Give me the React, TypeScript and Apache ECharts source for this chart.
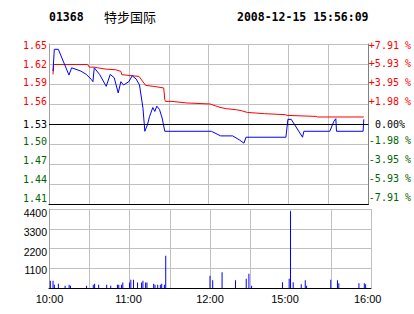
import React, { useEffect, useRef } from 'react';
import * as echarts from 'echarts';

// ---------- data ----------
const STOCK_CODE = '01368';
const STOCK_NAME = '特步国际';
const TIMESTAMP = '2008-12-15 15:56:09';
const PREV_CLOSE = 1.53;
const PRICE_MIN = 1.409;
const PRICE_MAX = 1.651;
const PRICE_STEP = 0.03025;
const PRICE_TICK_LABELS = ['1.41', '1.44', '1.47', '1.50', '1.53', '1.56', '1.59', '1.62', '1.65'];
const PCT_TICK_LABELS = ['-7.91 %', '-5.93 %', '-3.95 %', '-1.98 %', '0.00%', '+1.98 %', '+3.95 %', '+5.93 %', '+7.91 %'];
const VOL_MAX = 4400;
const VOL_STEP = 1100;
const VOL_TICK_LABELS = ['', '1100', '2200', '3300', '4400'];
const TIME_TICK_MINUTES = [0, 60, 120, 180, 240];
const TIME_TICK_LABELS = ['10:00', '11:00', '12:00', '15:00', '16:00'];
const SESSION_MINUTES = 240;

// price line (minute since 10:00 on trading clock, price)
const PRICE_MINUTES = [3, 4, 7, 15, 17, 24, 28, 32, 33, 34, 38, 43, 46, 49, 52, 54, 56, 60, 62.5, 65.5, 68, 70.6, 72, 74, 75.5, 78, 79.5, 81, 83, 85, 87, 122, 129, 138, 143, 146.5, 148, 178, 179.5, 182, 190.5, 191.5, 211, 214, 215.5, 216, 236, 236.5];
const PRICE_VALUES = [1.61, 1.643, 1.643, 1.604, 1.615, 1.61, 1.605, 1.597, 1.594, 1.615, 1.605, 1.587, 1.605, 1.6, 1.577, 1.594, 1.589, 1.594, 1.603, 1.598, 1.589, 1.554, 1.519, 1.529, 1.541, 1.555, 1.549, 1.557, 1.552, 1.539, 1.519, 1.519, 1.512, 1.512, 1.506, 1.501, 1.51, 1.51, 1.537, 1.537, 1.51, 1.519, 1.519, 1.534, 1.538, 1.519, 1.519, 1.537];

// average price line
const AVG_MINUTES = [3, 3.5, 29, 30.3, 34, 36.5, 42.8, 50.2, 54, 54.7, 60.1, 67.6, 71.3, 72.6, 78.8, 86.2, 87, 87.5, 92.4, 103.6, 121, 124.8, 128.5, 133.4, 140.9, 144.6, 149, 162, 177.4, 178.9, 200.5, 201.8, 236.5];
const AVG_VALUES = [1.605, 1.62, 1.62, 1.616, 1.616, 1.615, 1.613, 1.612, 1.6096, 1.6046, 1.6035, 1.602, 1.592, 1.5884, 1.5869, 1.5845, 1.5668, 1.5642, 1.5642, 1.5618, 1.5603, 1.5577, 1.5551, 1.5531, 1.5516, 1.5501, 1.5475, 1.5456, 1.5441, 1.543, 1.5415, 1.5406, 1.5406];

// volume
const VOL_MINUTES = [1, 3, 4, 7, 12, 15, 16, 28, 33, 34, 37, 43, 46, 51, 52, 54, 55, 60, 61, 63, 66, 69, 70, 72, 73, 78, 79, 81, 83, 84, 86, 87, 120, 122, 129, 139, 147, 149, 151, 174, 179, 180, 182, 188, 191, 192, 210, 215, 216, 231, 235, 236];
const VOL_VALUES = [410, 410, 186, 242, 130, 186, 130, 130, 186, 242, 186, 186, 130, 186, 186, 186, 300, 300, 465, 465, 300, 300, 410, 300, 300, 242, 186, 186, 186, 242, 186, 1800, 688, 427, 874, 427, 520, 800, 130, 316, 520, 4280, 316, 205, 427, 130, 465, 427, 260, 260, 260, 205];

// ---------- helpers ----------
const RED = '#FF0000';
const GREEN = '#006400';
const GRID_GRAY = '#C0C0C0';
const AXIS_GRAY = '#A0A0A0';

// label nudges (px, down positive) to mimic the original placement
const LEFT_SHIFT = [-6, -5, -4, -3, 0, -2.3, -1.3, 0, 1];
const RIGHT_SHIFT = [-7, -6, -5, -4, 0, -3, -2, -1, 1];
const VOL_SHIFT = [0, 1.8, 3.5, 3.3, 4];
const TIME_SHIFT = [0.5, -1, 0, -5.5, -3.3];

function pad(dx: number, dy: number) {
  return [dy > 0 ? 2 * dy : 0, dx < 0 ? -2 * dx : 0, dy < 0 ? -2 * dy : 0, dx > 0 ? 2 * dx : 0];
}
function colorFor(i: number) {
  return i < 4 ? GREEN : i === 4 ? '#000000' : RED;
}

export default function App() {
  const ref = useRef<HTMLDivElement>(null);
  useEffect(() => {
    if (!ref.current) return;
    const chart = echarts.init(ref.current, undefined, { renderer: 'svg' });

    const leftRich: any = {};
    const rightRich: any = {};
    PRICE_TICK_LABELS.forEach((_, i) => {
      leftRich['p' + i] = { color: colorFor(i), fontFamily: 'DejaVu Sans Mono', fontSize: 10, padding: pad(0, LEFT_SHIFT[i]) };
      rightRich['q' + i] = { color: colorFor(i), fontFamily: 'DejaVu Sans Mono', fontSize: 10, padding: pad(0, RIGHT_SHIFT[i]) };
    });
    const volRich: any = {};
    VOL_TICK_LABELS.forEach((_, i) => {
      volRich['v' + i] = { color: '#000', fontFamily: 'Liberation Sans', fontSize: 10.5, padding: pad(0, VOL_SHIFT[i]) };
    });
    const timeRich: any = {};
    TIME_TICK_LABELS.forEach((_, i) => {
      timeRich['t' + i] = { color: '#000', fontFamily: 'Liberation Sans', fontSize: 11, padding: pad(TIME_SHIFT[i], 0) };
    });

    const priceIdx = (v: number) => Math.round((v - PRICE_MIN) / PRICE_STEP);

    const option: any = {
      animation: false,
      backgroundColor: '#ffffff',
      graphic: [
        { type: 'text', x: 49, y: 17, style: { text: STOCK_CODE, font: 'bold 11.5px "DejaVu Sans Mono"', fill: '#000', verticalAlign: 'middle' } },
        { type: 'text', x: 104, y: 16, style: { text: STOCK_NAME, font: '13px "Noto Sans CJK SC"', fill: '#000', verticalAlign: 'middle' } },
        { type: 'text', x: 237, y: 17, style: { text: TIMESTAMP, font: 'bold 11.5px "DejaVu Sans Mono"', fill: '#000', verticalAlign: 'middle' } },
      ],
      grid: [
        { left: 49, top: 44, width: 322, height: 160 },
        { left: 49, top: 209, width: 322, height: 79 },
      ],
      xAxis: [
        {
          gridIndex: 0, type: 'value', min: 0, max: SESSION_MINUTES, interval: 30,
          axisLine: { show: true, onZero: false, lineStyle: { color: '#000', width: 1 } },
          axisTick: { show: false }, axisLabel: { show: false },
          splitLine: { show: true, lineStyle: { color: GRID_GRAY, width: 1 } },
        },
        {
          gridIndex: 1, type: 'value', min: 0, max: SESSION_MINUTES, interval: 30,
          axisLine: { show: true, onZero: false, lineStyle: { color: '#000', width: 1 } },
          axisTick: { show: false },
          axisLabel: {
            show: true, margin: 5, showMinLabel: true, showMaxLabel: true,
            formatter: (v: number) => {
              const i = TIME_TICK_MINUTES.indexOf(Math.round(v));
              return i >= 0 ? `{t${i}|${TIME_TICK_LABELS[i]}}` : '';
            },
            rich: timeRich,
          },
          splitLine: { show: true, lineStyle: { color: GRID_GRAY, width: 1 } },
        },
      ],
      yAxis: [
        {
          gridIndex: 0, type: 'value', min: PRICE_MIN, max: PRICE_MAX, interval: PRICE_STEP,
          axisLine: { show: true, onZero: false, lineStyle: { color: AXIS_GRAY } },
          axisTick: { show: false },
          axisLabel: {
            margin: 2, showMinLabel: true, showMaxLabel: true,
            formatter: (v: number) => {
              const i = priceIdx(v);
              return `{p${i}|${PRICE_TICK_LABELS[i]}}`;
            },
            rich: leftRich,
          },
          splitLine: { show: true, lineStyle: { color: GRID_GRAY, width: 1 } },
        },
        {
          gridIndex: 0, type: 'value', position: 'right', min: PRICE_MIN, max: PRICE_MAX, interval: PRICE_STEP,
          axisLine: { show: true, onZero: false, lineStyle: { color: '#808080' } },
          axisTick: { show: false },
          axisLabel: {
            margin: 21.5, align: 'center', showMinLabel: true, showMaxLabel: true,
            formatter: (v: number) => {
              const i = priceIdx(v);
              return `{q${i}|${PCT_TICK_LABELS[i]}}`;
            },
            rich: rightRich,
          },
          splitLine: { show: false },
        },
        {
          gridIndex: 1, type: 'value', min: 0, max: VOL_MAX, interval: VOL_STEP,
          axisLine: { show: true, onZero: false, lineStyle: { color: AXIS_GRAY } },
          axisTick: { show: false },
          axisLabel: {
            margin: 2, showMinLabel: true, showMaxLabel: true,
            formatter: (v: number) => {
              const i = Math.round(v / VOL_STEP);
              return VOL_TICK_LABELS[i] ? `{v${i}|${VOL_TICK_LABELS[i]}}` : '';
            },
            rich: volRich,
          },
          splitLine: { show: true, lineStyle: { color: GRID_GRAY, width: 1 } },
        },
      ],
      series: [
        {
          name: 'avg', type: 'line', xAxisIndex: 0, yAxisIndex: 0, symbol: 'none',
          lineStyle: { color: RED, width: 1 }, itemStyle: { color: RED },
          data: AVG_MINUTES.map((m, i) => [m, AVG_VALUES[i]]),
          markLine: {
            silent: true, symbol: ['none', 'none'], label: { show: false },
            lineStyle: { color: '#000', type: 'solid', width: 1 },
            data: [{ yAxis: PREV_CLOSE }],
          },
        },
        {
          name: 'price', type: 'line', xAxisIndex: 0, yAxisIndex: 0, symbol: 'none',
          lineStyle: { color: '#0000FF', width: 1 }, itemStyle: { color: '#0000FF' },
          data: PRICE_MINUTES.map((m, i) => [m, PRICE_VALUES[i]]),
        },
        {
          name: 'volume', type: 'bar', xAxisIndex: 1, yAxisIndex: 2, barWidth: 1,
          itemStyle: { color: '#0000FF' },
          data: VOL_MINUTES.map((m, i) => [m, VOL_VALUES[i]]),
        },
      ],
    };
    chart.setOption(option);
    return () => chart.dispose();
  }, []);
  return <div ref={ref} style={{ position: 'fixed', left: 0, top: 0, width: 414, height: 314, background: '#fff' }} />;
}
